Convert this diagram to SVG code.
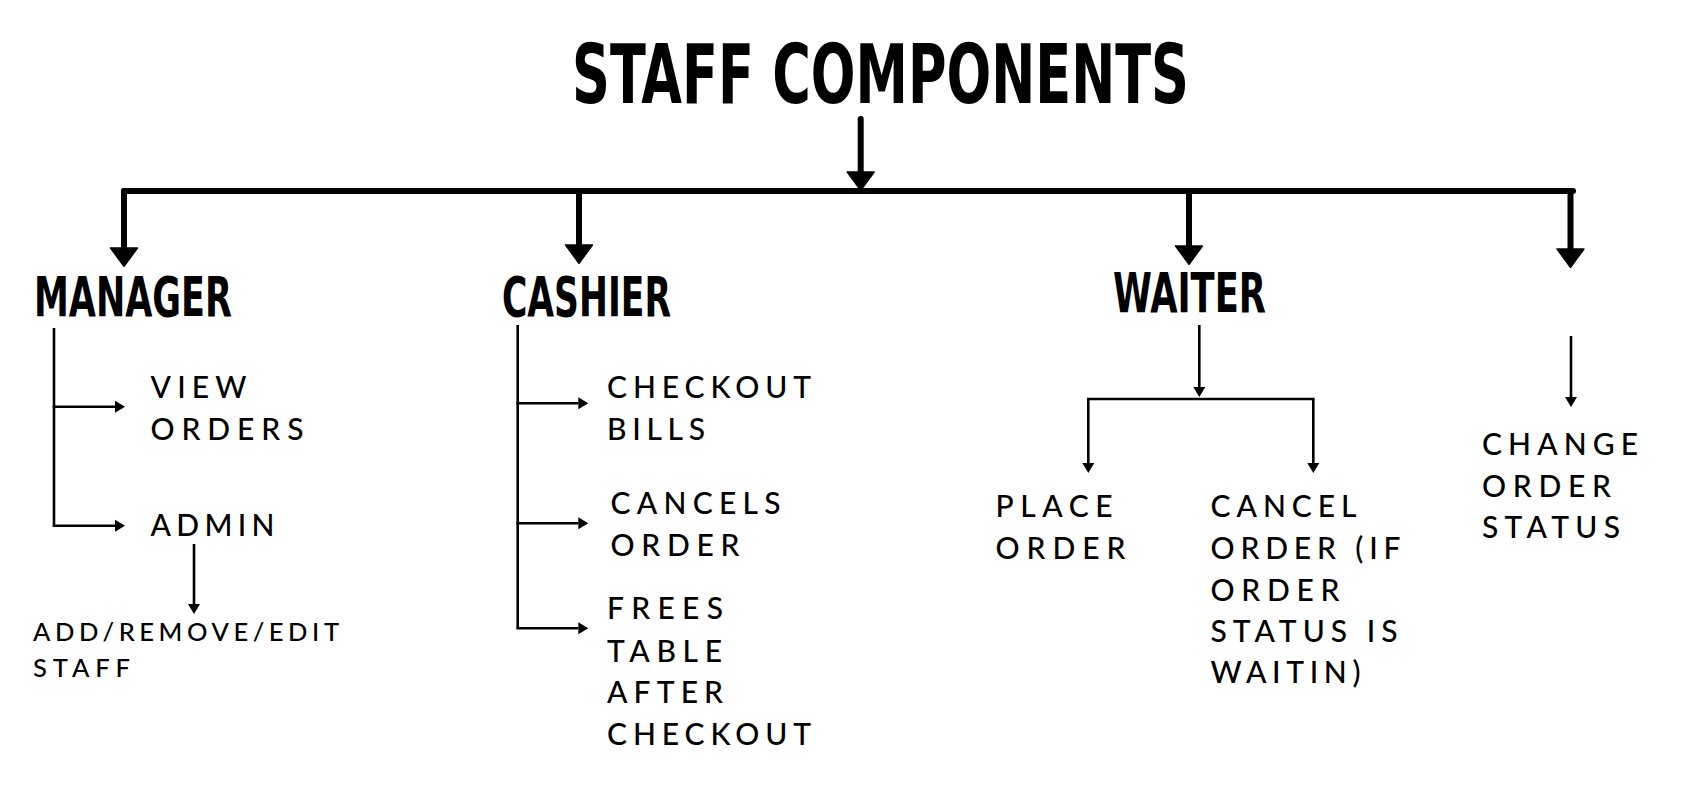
<svg xmlns="http://www.w3.org/2000/svg" width="1682" height="795" viewBox="0 0 1682 795">
<style>
.title{font-family:"DejaVu Sans Condensed","DejaVu Sans","Liberation Sans",sans-serif;font-stretch:condensed;font-weight:bold;fill:#000}
.role{font-family:"DejaVu Sans Condensed","DejaVu Sans","Liberation Sans",sans-serif;font-stretch:condensed;font-weight:bold;font-size:55px;fill:#000}
.item{font-family:Lato,"Open Sans",sans-serif;font-weight:500;font-size:30px;fill:#000}
.small{font-family:Lato,"Open Sans",sans-serif;font-weight:500;font-size:25.5px;fill:#000}
.thick{fill:none;stroke:#000;stroke-width:6;stroke-linecap:round}
.thin{fill:none;stroke:#000;stroke-width:2.6}
</style>
<defs>
<marker id="bigHead" markerUnits="userSpaceOnUse" orient="auto" refX="0" refY="0" markerWidth="30" markerHeight="30" viewBox="-2 -14 22 28" overflow="visible">
<path d="M0,-12.5 L17,0 L0,12.5 Z" fill="#000" stroke="#000" stroke-width="1.5" stroke-linejoin="round"/>
</marker>
<marker id="smallHead" markerUnits="userSpaceOnUse" orient="auto" refX="0" refY="0" markerWidth="14" markerHeight="14" viewBox="-1 -7 12 14" overflow="visible">
<path d="M0,-6 L10,0 L0,6 Z" fill="#000"/>
</marker>
</defs>
<rect width="1682" height="795" fill="#fff"/>

<g id="connectors">
<line class="thick" x1="860.7" y1="119" x2="860.7" y2="172" marker-end="url(#bigHead)"/>
<line class="thick" x1="124" y1="191" x2="1573" y2="191"/>
<line class="thick" x1="124" y1="191" x2="124" y2="248" marker-end="url(#bigHead)"/>
<line class="thick" x1="579" y1="191" x2="579" y2="245" marker-end="url(#bigHead)"/>
<line class="thick" x1="1189" y1="191" x2="1189" y2="246" marker-end="url(#bigHead)"/>
<line class="thick" x1="1570.5" y1="191" x2="1570.5" y2="249" marker-end="url(#bigHead)"/>

<path class="thin" d="M54 328 V525.7"/>
<line class="thin" x1="52.7" y1="406.7" x2="115" y2="406.7" marker-end="url(#smallHead)"/>
<line class="thin" x1="52.7" y1="525.7" x2="115" y2="525.7" marker-end="url(#smallHead)"/>
<line class="thin" x1="194" y1="544" x2="194" y2="604" marker-end="url(#smallHead)"/>

<path class="thin" d="M517.7 325 V628.3"/>
<line class="thin" x1="516.4" y1="403.3" x2="578.3" y2="403.3" marker-end="url(#smallHead)"/>
<line class="thin" x1="516.4" y1="523.3" x2="578.3" y2="523.3" marker-end="url(#smallHead)"/>
<line class="thin" x1="516.4" y1="628.3" x2="578.3" y2="628.3" marker-end="url(#smallHead)"/>

<line class="thin" x1="1199.3" y1="325" x2="1199.3" y2="387" marker-end="url(#smallHead)"/>
<line class="thin" x1="1087" y1="399" x2="1314.6" y2="399"/>
<line class="thin" x1="1088.3" y1="399" x2="1088.3" y2="463" marker-end="url(#smallHead)"/>
<line class="thin" x1="1313.3" y1="399" x2="1313.3" y2="463" marker-end="url(#smallHead)"/>

<line class="thin" x1="1571" y1="336" x2="1571" y2="397" marker-end="url(#smallHead)"/>
</g>

<g id="staff-components">
<text class="title" x="572" y="102.7" font-size="82" textLength="617" lengthAdjust="spacingAndGlyphs">STAFF COMPONENTS</text>
</g>

<g id="manager">
<text class="role" x="34" y="316" textLength="198" lengthAdjust="spacingAndGlyphs">MANAGER</text>
</g>
<g id="cashier">
<text class="role" x="502" y="315.5" textLength="169" lengthAdjust="spacingAndGlyphs">CASHIER</text>
</g>
<g id="waiter">
<text class="role" x="1113" y="312" textLength="153" lengthAdjust="spacingAndGlyphs">WAITER</text>
</g>

<g id="view-orders">
<text class="item" x="150.5" y="398.3" textLength="96" lengthAdjust="spacing">VIEW</text>
<text class="item" x="150.5" y="440" textLength="153" lengthAdjust="spacing">ORDERS</text>
</g>
<g id="admin">
<text class="item" x="150.5" y="536" textLength="124" lengthAdjust="spacing">ADMIN</text>
</g>
<g id="add-remove-edit-staff">
<text class="small" x="33" y="641" textLength="306" lengthAdjust="spacing">ADD/REMOVE/EDIT</text>
<text class="small" x="33" y="676.7" textLength="97" lengthAdjust="spacing">STAFF</text>
</g>

<g id="checkout-bills">
<text class="item" x="607" y="398.3" textLength="204" lengthAdjust="spacing">CHECKOUT</text>
<text class="item" x="607" y="440" textLength="98" lengthAdjust="spacing">BILLS</text>
</g>
<g id="cancels-order">
<text class="item" x="610.5" y="514" textLength="170" lengthAdjust="spacing">CANCELS</text>
<text class="item" x="610.5" y="556" textLength="129" lengthAdjust="spacing">ORDER</text>
</g>
<g id="frees-table">
<text class="item" x="607" y="619.3" textLength="116" lengthAdjust="spacing">FREES</text>
<text class="item" x="607" y="661.7" textLength="115" lengthAdjust="spacing">TABLE</text>
<text class="item" x="607" y="703.3" textLength="116" lengthAdjust="spacing">AFTER</text>
<text class="item" x="607" y="745" textLength="204" lengthAdjust="spacing">CHECKOUT</text>
</g>

<g id="place-order">
<text class="item" x="995.5" y="517.3" textLength="117" lengthAdjust="spacing">PLACE</text>
<text class="item" x="995.5" y="559" textLength="130" lengthAdjust="spacing">ORDER</text>
</g>
<g id="cancel-order">
<text class="item" x="1210.5" y="517.3" textLength="146" lengthAdjust="spacing">CANCEL</text>
<text class="item" x="1210.5" y="558.8" textLength="190" lengthAdjust="spacing">ORDER (IF</text>
<text class="item" x="1210.5" y="600.5" textLength="129" lengthAdjust="spacing">ORDER</text>
<text class="item" x="1210.5" y="641.8" textLength="187" lengthAdjust="spacing">STATUS IS</text>
<text class="item" x="1210.5" y="683.2" textLength="150" lengthAdjust="spacing">WAITIN)</text>
</g>

<g id="change-order-status">
<text class="item" x="1482" y="455" textLength="156" lengthAdjust="spacing">CHANGE</text>
<text class="item" x="1482" y="496.7" textLength="129" lengthAdjust="spacing">ORDER</text>
<text class="item" x="1482" y="538.3" textLength="138" lengthAdjust="spacing">STATUS</text>
</g>
</svg>
